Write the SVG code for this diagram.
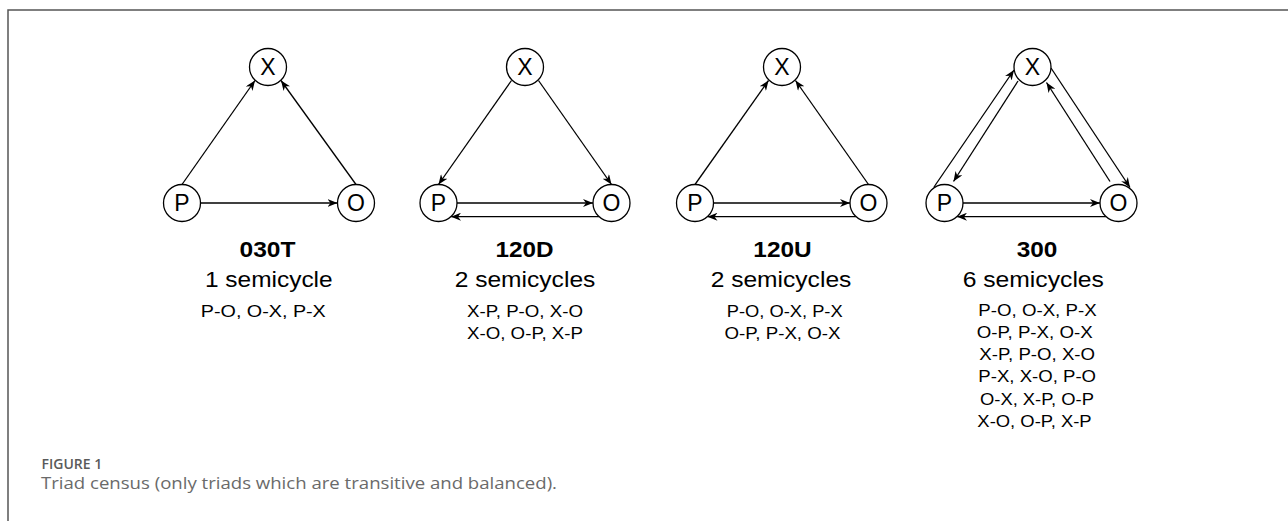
<svg xmlns="http://www.w3.org/2000/svg" width="1288" height="521" viewBox="0 0 1288 521">
<style>
.frame{stroke:#555;stroke-width:1.5;fill:none}
.node circle{fill:#fff;stroke:#000;stroke-width:1.3}
.node text{font-family:"Liberation Sans",Arial,sans-serif;font-size:23px;text-anchor:middle;fill:#000}
.edges line{stroke:#000;stroke-width:1.3;marker-end:url(#arr)}
.lbl text{font-family:"Liberation Sans",Arial,sans-serif;text-anchor:middle;fill:#000}
.t{font-size:22px;font-weight:bold}
.s{font-size:22px}
.c{font-size:17px}
.cap1{font-family:"Open Sans",sans-serif;font-size:14px;font-weight:600;fill:#5a5a5a}
.cap2{font-family:"Open Sans",sans-serif;font-size:16px;fill:#6a6a6a}
</style>
<defs>
<marker id="arr" viewBox="0 0 10 8" refX="10" refY="4" markerWidth="10" markerHeight="8" orient="auto" markerUnits="userSpaceOnUse">
<path d="M0,0 L10,4 L0,8 L3,4 z" fill="#000"/>
</marker>
</defs>
<rect width="1288" height="521" fill="#fff"/>
<path class="frame" d="M8,521 V10 H1288"/>

<g class="edges" id="connectors">
<!-- 030T -->
<line x1="182" y1="184.5" x2="255" y2="80.5"/>
<line x1="356" y1="184.5" x2="281" y2="80.5"/>
<line x1="200.5" y1="203" x2="337.5" y2="203"/>
<!-- 120D -->
<line x1="511.5" y1="80.5" x2="438.5" y2="184.5"/>
<line x1="538.5" y1="80.5" x2="611.5" y2="184.5"/>
<line x1="457" y1="203" x2="593" y2="203"/>
<line x1="599" y1="216.7" x2="451" y2="216.7"/>
<!-- 120U -->
<line x1="695" y1="184.5" x2="768.5" y2="80.5"/>
<line x1="868.5" y1="184.5" x2="795.5" y2="80.5"/>
<line x1="713.5" y1="203" x2="850" y2="203"/>
<line x1="856" y1="216.7" x2="707.5" y2="216.7"/>
<!-- 300 -->
<line x1="934" y1="187" x2="1014" y2="70"/>
<line x1="1018" y1="81" x2="953.5" y2="181.5"/>
<line x1="1051" y1="68" x2="1130" y2="187.5"/>
<line x1="1110" y1="181.5" x2="1046.5" y2="82.5"/>
<line x1="963" y1="203" x2="1100" y2="203"/>
<line x1="1106" y1="216.7" x2="957" y2="216.7"/>
</g>

<g class="node" id="t1-X"><circle cx="268" cy="67" r="18.5"/><text x="268" y="75.3">X</text></g>
<g class="node" id="t1-P"><circle cx="182" cy="203" r="18.5"/><text x="182" y="211.3">P</text></g>
<g class="node" id="t1-O"><circle cx="356" cy="203" r="18.5"/><text x="356" y="211.3">O</text></g>

<g class="node" id="t2-X"><circle cx="525" cy="67" r="18.5"/><text x="525" y="75.3">X</text></g>
<g class="node" id="t2-P"><circle cx="438.5" cy="203" r="18.5"/><text x="438.5" y="211.3">P</text></g>
<g class="node" id="t2-O"><circle cx="611.5" cy="203" r="18.5"/><text x="611.5" y="211.3">O</text></g>

<g class="node" id="t3-X"><circle cx="782" cy="67" r="18.5"/><text x="782" y="75.3">X</text></g>
<g class="node" id="t3-P"><circle cx="695" cy="203" r="18.5"/><text x="695" y="211.3">P</text></g>
<g class="node" id="t3-O"><circle cx="868.5" cy="203" r="18.5"/><text x="868.5" y="211.3">O</text></g>

<g class="node" id="t4-X"><circle cx="1032.5" cy="67" r="18.5"/><text x="1032.5" y="75.3">X</text></g>
<g class="node" id="t4-P"><circle cx="944.5" cy="203" r="18.5"/><text x="944.5" y="211.3">P</text></g>
<g class="node" id="t4-O"><circle cx="1118.5" cy="203" r="18.5"/><text x="1118.5" y="211.3">O</text></g>

<g class="lbl" id="label-030T">
<text class="t" x="267.5" y="257" textLength="56" lengthAdjust="spacingAndGlyphs">030T</text>
<text class="s" x="268.8" y="287" textLength="127.7" lengthAdjust="spacingAndGlyphs">1 semicycle</text>
<text class="c" x="263.3" y="316.5" textLength="125" lengthAdjust="spacingAndGlyphs">P-O, O-X, P-X</text>
</g>
<g class="lbl" id="label-120D">
<text class="t" x="524.5" y="257" textLength="58" lengthAdjust="spacingAndGlyphs">120D</text>
<text class="s" x="525" y="287" textLength="140.7" lengthAdjust="spacingAndGlyphs">2 semicycles</text>
<text class="c" x="525" y="316.5" textLength="116" lengthAdjust="spacingAndGlyphs">X-P, P-O, X-O</text>
<text class="c" x="525" y="338.8" textLength="116" lengthAdjust="spacingAndGlyphs">X-O, O-P, X-P</text>
</g>
<g class="lbl" id="label-120U">
<text class="t" x="782.5" y="257" textLength="58.3" lengthAdjust="spacingAndGlyphs">120U</text>
<text class="s" x="781" y="287" textLength="140.7" lengthAdjust="spacingAndGlyphs">2 semicycles</text>
<text class="c" x="784.7" y="316.5" textLength="116" lengthAdjust="spacingAndGlyphs">P-O, O-X, P-X</text>
<text class="c" x="782.5" y="338.8" textLength="116" lengthAdjust="spacingAndGlyphs">O-P, P-X, O-X</text>
</g>
<g class="lbl" id="label-300">
<text class="t" x="1037" y="257" textLength="40.7" lengthAdjust="spacingAndGlyphs">300</text>
<text class="s" x="1033.3" y="287" textLength="141.3" lengthAdjust="spacingAndGlyphs">6 semicycles</text>
<text class="c" x="1037.5" y="315.5" textLength="118.3" lengthAdjust="spacingAndGlyphs">P-O, O-X, P-X</text>
<text class="c" x="1034.7" y="338" textLength="116" lengthAdjust="spacingAndGlyphs">O-P, P-X, O-X</text>
<text class="c" x="1037.2" y="360" textLength="115.7" lengthAdjust="spacingAndGlyphs">X-P, P-O, X-O</text>
<text class="c" x="1037.2" y="382" textLength="117.7" lengthAdjust="spacingAndGlyphs">P-X, X-O, P-O</text>
<text class="c" x="1037" y="404.5" textLength="114" lengthAdjust="spacingAndGlyphs">O-X, X-P, O-P</text>
<text class="c" x="1034.5" y="426.7" textLength="114.3" lengthAdjust="spacingAndGlyphs">X-O, O-P, X-P</text>
</g>

<g id="caption">
<text class="cap1" x="41.5" y="468.5">FIGURE 1</text>
<text class="cap2" x="41" y="488.5" textLength="516" lengthAdjust="spacingAndGlyphs">Triad census (only triads which are transitive and balanced).</text>
</g>
</svg>
